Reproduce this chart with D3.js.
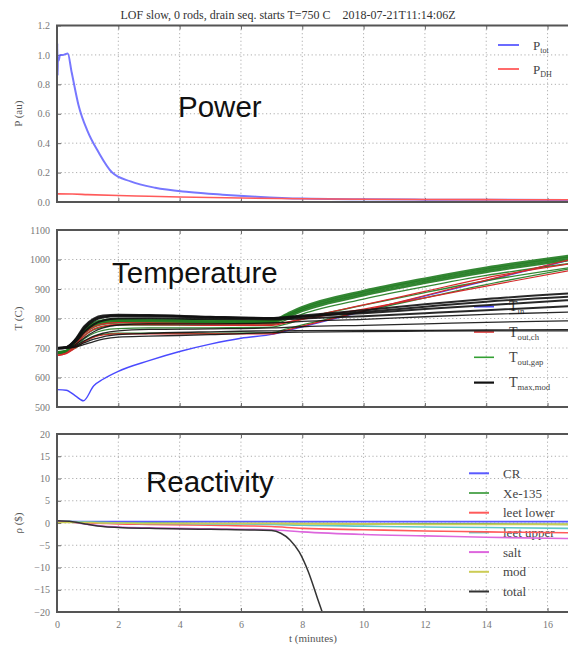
<!DOCTYPE html>
<html><head><meta charset="utf-8">
<script src="https://cdn.jsdelivr.net/npm/d3@7"></script>
<style>
body{margin:0;background:#fff;}
svg{display:block;}
text{font-family:"Liberation Serif","DejaVu Serif",serif;}
</style></head>
<body><svg id="c" width="568" height="645"></svg>
<script>
// ---------- DATA ----------
const titleText = "LOF slow, 0 rods, drain seq. starts T=750 C    2018-07-21T11:14:06Z";
const xTicks = [0,2,4,6,8,10,12,14,16];
const pTicks = [0,0.2,0.4,0.6,0.8,1.0,1.2];
const tTicks = [500,600,700,800,900,1000,1100];
const rTicks = [-20,-15,-10,-5,0,5,10,15,20];

// Power panel
const tPtot = [0,0.01,0.02,0.03,0.05,0.1,0.2,0.35,0.48,0.7,1.0,1.35,1.8,2.4,3.2,4.3,5.4,6.5,8,10,12,14,16.7];
const pTot  = [0.78,1.08,0.86,0.98,0.96,1.0,1.0,1.01,0.88,0.66,0.48,0.34,0.2,0.14,0.097,0.068,0.05,0.036,0.023,0.018,0.016,0.015,0.014];
const tPdh  = [0,0.5,1,2,3,4,6,8,10,12,14,16.7];
const pDH   = [0.055,0.054,0.05,0.044,0.039,0.034,0.027,0.022,0.019,0.017,0.016,0.015];

// Temperature panel
const tTin = [0,0.3,0.6,0.86,1.2,1.5,2,3,4,5,6,7.06,8,10,12,14,16.7];
const Tin  = [559,557,538,521,572,594,621,657,688,713,733,747,772,824,876,928,998];
const tK   = [0,0.3,0.6,0.9,1.2,1.5,2,3,5,7,7.5,8,10,12,14,16.7];
const ToutCh = [
  [675,681,700,722,737,744,748,748,748,748,761,774,826,878,930,999],
  [676,683,712,750,772,782,786,785,782,781,788,797,832,870,910,962],
  [674,682,708,742,764,774,779,779,777,777,786,800,846,892,938,985]
];
const ToutGap = [
  [685,690,725,765,785,793,797,796,793,792,815,838,893,935,972,1012],
  [684,689,720,758,779,788,792,791,789,789,810,832,886,928,965,1005],
  [683,688,716,752,773,782,787,786,784,785,805,826,879,921,958,998],
  [682,687,710,742,762,772,778,778,777,779,796,815,866,908,946,986],
  [681,686,704,732,750,760,766,768,768,771,782,798,845,888,928,972],
  [680,685,700,722,738,746,750,750,750,752,765,778,825,870,915,968]
];
const TmaxMod = [
  [700,703,730,775,800,810,813,812,806,802,805,810,828,848,866,885],
  [700,703,727,770,796,806,810,810,805,801,803,807,822,840,857,874],
  [700,703,725,765,792,803,808,808,803,800,802,806,818,832,845,862],
  [700,702,720,755,780,793,800,801,798,797,798,800,808,818,828,842],
  [698,701,712,735,755,768,778,782,782,785,787,790,797,806,814,822],
  [697,700,708,725,740,750,758,763,765,768,770,772,777,782,787,792],
  [697,699,705,718,730,738,745,750,755,758,758,759,760,760,761,762],
  [697,699,703,712,722,730,737,740,745,752,753,754,756,757,758,758]
];

// Reactivity panel
const tR    = [0,0.5,1,1.5,2,3,5,7,8,10,12,14,16.7];
const rhoCR = [0.3,0.3,0.3,0.3,0.3,0.3,0.3,0.3,0.3,0.3,0.3,0.3,0.3];
const rhoXe = [0.2,0.2,0.1,0.1,0.0,0.0,-0.1,-0.1,-0.1,-0.2,-0.2,-0.2,-0.3];
const rhoLL = [0.3,0.2,0.0,-0.1,-0.2,-0.3,-0.5,-0.8,-1.2,-1.5,-1.8,-2.0,-2.2];
const rhoLU = [0.3,0.3,0.2,0.1,0.0,-0.1,-0.2,-0.3,-0.5,-0.7,-0.9,-1.0,-1.2];
const rhoSalt = [0.4,0.2,-0.3,-0.7,-0.9,-1.1,-1.3,-1.5,-2.0,-2.6,-2.9,-3.2,-3.5];
const rhoMod = [0.1,0.1,0.1,0.0,0.0,-0.1,-0.1,-0.1,-0.2,-0.2,-0.3,-0.3,-0.3];
const tTotal = [0,0.5,1,1.5,2,3,5,7,7.3,7.6,7.9,8.2,8.5,8.7];
const rhoTotal = [0.5,0.3,-0.3,-0.8,-1.0,-1.2,-1.4,-1.7,-2.3,-3.8,-6.5,-11,-17,-21];

const rLegend = ["CR","Xe-135","leet lower","leet upper","salt","mod","total"];
const rColors = ["#5a5aff","#5aaa5a","#ff5a5a","#5fc8c8","#dd66dd","#cccc55","#333333"];

// ---------- DRAW ----------
const svg = d3.select("#c");
const X0 = 57, X1 = 569;
const x = d3.scaleLinear().domain([0,16.7]).range([X0,X1]);
const panels = [
  {top:25.5, bot:202, dom:[0,1.2], ticks:pTicks, fmt:d3.format(".1f"), label:"P (au)"},
  {top:230, bot:407, dom:[500,1100], ticks:tTicks, fmt:d3.format("d"), label:"T (C)"},
  {top:434, bot:612, dom:[-20,20], ticks:rTicks, fmt:d=>d<0?"\u2212"+Math.abs(d):String(d), label:"\u03c1 ($)"}
];
panels.forEach((p,i)=>{
  p.y = d3.scaleLinear().domain(p.dom).range([p.bot,p.top]);
  p.g = svg.append("g");
  const id = "clip"+i;
  svg.append("clipPath").attr("id",id).append("rect")
     .attr("x",X0).attr("y",p.top).attr("width",X1-X0).attr("height",p.bot-p.top);
  p.clip = "url(#"+id+")";
  // grid
  const grid = p.g.append("g").attr("stroke","#9a9a9a").attr("stroke-width",0.8).attr("stroke-dasharray","1.2,2.6");
  xTicks.forEach(t=>grid.append("line").attr("x1",x(t)).attr("x2",x(t)).attr("y1",p.top).attr("y2",p.bot));
  p.ticks.forEach(t=>grid.append("line").attr("x1",X0).attr("x2",X1).attr("y1",p.y(t)).attr("y2",p.y(t)));
  // y axis
  const ay = p.g.append("g").attr("transform",`translate(${X0},0)`)
     .call(d3.axisLeft(p.y).tickValues(p.ticks).tickFormat(p.fmt).tickSizeInner(-4).tickSizeOuter(0).tickPadding(7));
  ay.select(".domain").remove();
  ay.selectAll("line").attr("stroke","#666");
  ay.selectAll("text").attr("fill","#777").style("font-size","10px").style("font-family","Liberation Serif");
  // x ticks (inward) top & bottom
  const ax = p.g.append("g").attr("transform",`translate(0,${p.bot})`)
     .call(d3.axisBottom(x).tickValues(xTicks).tickSizeInner(-4).tickSizeOuter(0).tickPadding(9)
       .tickFormat(i===2? d3.format("d") : ()=>""));
  ax.select(".domain").remove();
  ax.selectAll("line").attr("stroke","#666");
  ax.selectAll("text").attr("fill","#777").style("font-size","10px").style("font-family","Liberation Serif");
  const axt = p.g.append("g").attr("transform",`translate(0,${p.top})`)
     .call(d3.axisTop(x).tickValues(xTicks).tickSizeInner(-4).tickSizeOuter(0).tickFormat(()=>""));
  axt.select(".domain").remove();
  axt.selectAll("line").attr("stroke","#666");
  // y label
  p.g.append("text").attr("transform",`translate(22,${(p.top+p.bot)/2}) rotate(-90)`)
     .attr("text-anchor","middle").attr("fill","#555").style("font-size","11px").text(p.label);
  p.data = svg.append("g").attr("clip-path",p.clip);
});

const lineOf = (ts,vs,y)=> d3.line().curve(d3.curveMonotoneX).x((d,i)=>x(ts[i])).y(d=>y(d))(vs);

// legends (drawn before lines, lines pass over them)
function legendEntry(g, lx1, lx2, tx, ly, color, main, sub, fs, sw){
  g.append("line").attr("x1",lx1).attr("x2",lx2).attr("y1",ly).attr("y2",ly)
   .attr("stroke",color).attr("stroke-width",sw||2);
  const t = g.append("text").attr("x",tx).attr("y",ly+4.5).attr("fill","#444").style("font-size",fs+"px");
  t.append("tspan").text(main);
  if(sub){ t.append("tspan").attr("dy",3).style("font-size",(fs*0.62)+"px").text(sub); }
}
// Power legend
const lg0 = panels[0].data;
legendEntry(lg0,498,519,533,45,"#6b6bff","P","tot",13);
legendEntry(lg0,498,519,533,69,"#ff6b6b","P","DH",13);
// Temperature legend
const lg1 = panels[1].data;
[["#4a4aff","in"],["#dd3333","out,ch"],["#33a033","out,gap"],["#111","max,mod"]].forEach((e,i)=>{
  legendEntry(lg1,474,494,509,306.7+25.3*i,e[0],"T",e[1],14, i===3?2.2:1.6);
});
// Reactivity legend
const lg2 = panels[2].data;
rLegend.forEach((n,i)=>legendEntry(lg2,469,489,503,473.3+19.7*i,rColors[i],n,null,13,2));

// Power lines
panels[0].data.append("path").attr("d",lineOf(tPtot,pTot,panels[0].y)).attr("fill","none")
  .attr("stroke","#5f5fff").attr("stroke-width",2).attr("stroke-opacity",0.85);
panels[0].data.append("path").attr("d",lineOf(tPdh,pDH,panels[0].y)).attr("fill","none")
  .attr("stroke","#ff5a5a").attr("stroke-width",1.6);

// Temperature lines
const yT = panels[1].y, dT = panels[1].data;
dT.append("path").attr("d",lineOf(tTin,Tin,yT)).attr("fill","none").attr("stroke","#4a4aff").attr("stroke-width",1.4);
ToutGap.forEach((s,i)=>dT.append("path").attr("d",lineOf(tK,s,yT)).attr("fill","none")
  .attr("stroke","#1e7a1e").attr("stroke-width",i<3?2.6:1.3).attr("stroke-opacity",0.9));
ToutCh.forEach(s=>dT.append("path").attr("d",lineOf(tK,s,yT)).attr("fill","none")
  .attr("stroke","#d42a2a").attr("stroke-width",1.2));
TmaxMod.forEach((s,i)=>dT.append("path").attr("d",lineOf(tK,s,yT)).attr("fill","none")
  .attr("stroke","#111").attr("stroke-width",i<4?2:1.3).attr("stroke-opacity",0.9));

// Reactivity lines
const yR = panels[2].y, dR = panels[2].data;
[rhoCR,rhoXe,rhoLL,rhoLU,rhoSalt,rhoMod].forEach((s,i)=>dR.append("path").attr("d",lineOf(tR,s,yR))
  .attr("fill","none").attr("stroke",rColors[i]).attr("stroke-width",1.6));
dR.append("path").attr("d",lineOf(tTotal,rhoTotal,yR)).attr("fill","none").attr("stroke","#333").attr("stroke-width",1.5);

// frames
panels.forEach(p=>{
  svg.append("rect").attr("x",X0).attr("y",p.top).attr("width",X1-X0).attr("height",p.bot-p.top)
    .attr("fill","none").attr("stroke","#555").attr("stroke-width",2);
});

// big overlay texts
const big = [["Power",178,117],["Temperature",112,283],["Reactivity",146,492]];
big.forEach(b=>svg.append("text").attr("x",b[1]).attr("y",b[2]).attr("fill","#111")
  .style("font-family","'Liberation Sans',Arial,sans-serif").style("font-size","29.5px").text(b[0]));

// title & x label
svg.append("text").attr("x",288).attr("y",18.5).attr("text-anchor","middle").attr("fill","#333")
  .style("font-size","12px").style("white-space","pre").text(titleText);
svg.append("text").attr("x",313).attr("y",642).attr("text-anchor","middle").attr("fill","#555")
  .style("font-size","11px").text("t (minutes)");
</script></body></html>
